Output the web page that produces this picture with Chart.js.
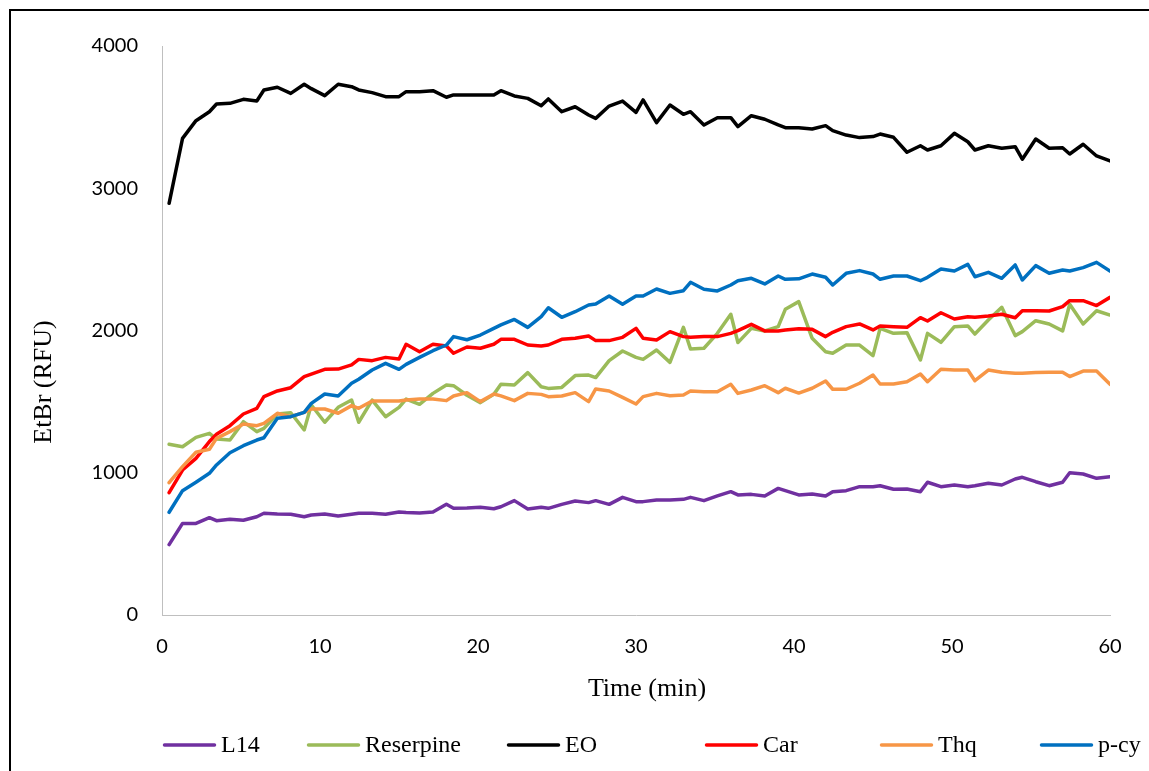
<!DOCTYPE html>
<html>
<head>
<meta charset="utf-8">
<title>EtBr efflux</title>
<script src="https://cdn.jsdelivr.net/npm/chart.js@4.4.1/dist/chart.umd.min.js"></script>
<style>
  html, body { margin: 0; padding: 0; background: #fff; overflow: hidden; }
  #wrap { position: relative; width: 1149px; height: 771px; }
  #c { position: absolute; left: 0; top: 0; }
  #frame { position: absolute; left: 9px; top: 9px; width: 1300px; height: 900px;
           border-top: 2px solid #000; border-left: 2px solid #000; pointer-events: none; }
</style>
</head>
<body>
<div id="wrap">
  <canvas id="c" width="1149" height="771"></canvas>
  <div id="frame"></div>
</div>
<script>
// Reading times (min), one reading every 45 s
const timeMin = [0.45, 1.30, 2.15, 3.00, 3.45, 4.30, 5.15, 6.00, 6.45, 7.30, 8.15, 9.00, 9.45, 10.30, 11.15, 12.00,
  12.45, 13.30, 14.15, 15.00, 15.45, 16.30, 17.15, 18.00, 18.45, 19.30, 20.15, 21.00, 21.45, 22.30, 23.15, 24.00,
  24.45, 25.30, 26.15, 27.00, 27.45, 28.30, 29.15, 30.00, 30.45, 31.30, 32.15, 33.00, 33.45, 34.30, 35.15, 36.00,
  36.45, 37.30, 38.15, 39.00, 39.45, 40.30, 41.15, 42.00, 42.45, 43.30, 44.15, 45.00, 45.45, 46.30, 47.15, 48.00,
  48.45, 49.30, 50.15, 51.00, 51.45, 52.30, 53.15, 54.00, 54.45, 55.30, 56.15, 57.00, 57.45, 58.30, 59.15, 60.00];

// EtBr fluorescence (RFU) per treatment
const l14 = [495, 644, 644, 684, 663, 673, 666, 691, 715, 710, 708, 691, 703, 710, 696, 708,
  715, 715, 708, 724, 720, 717, 724, 778, 750, 752, 757, 747, 761, 804, 745, 757,
  750, 778, 801, 790, 804, 778, 827, 797, 797, 808, 808, 813, 827, 804, 837, 867,
  844, 848, 837, 890, 874, 844, 851, 837, 867, 874, 902, 902, 909, 884, 886, 867,
  933, 902, 914, 902, 909, 926, 914, 956, 968, 937, 909, 933, 1000, 991, 961, 972];

const reserpine = [1200, 1183, 1249, 1277, 1237, 1230, 1359, 1289, 1312, 1413, 1422, 1301, 1476, 1355, 1460, 1511,
  1355, 1511, 1394, 1460, 1518, 1481, 1558, 1617, 1612, 1545, 1493, 1551, 1622, 1617, 1704, 1605,
  1593, 1600, 1683, 1687, 1669, 1788, 1856, 1811, 1797, 1863, 1776, 2022, 1870, 1875, 1980, 2114,
  1915, 2015, 1997, 2027, 2149, 2203, 1945, 1851, 1840, 1898, 1898, 1823, 2015, 1980, 1985, 1793,
  1980, 1917, 2027, 2032, 1975, 2074, 2163, 1964, 1992, 2069, 2046, 1997, 2184, 2046, 2139, 2109];

const eo = [2894, 3351, 3475, 3538, 3592, 3597, 3625, 3613, 3691, 3710, 3667, 3731, 3700, 3651, 3731, 3714,
  3691, 3672, 3644, 3644, 3679, 3679, 3686, 3640, 3656, 3656, 3655, 3656, 3686, 3649, 3632, 3580,
  3628, 3538, 3573, 3515, 3491, 3578, 3613, 3534, 3621, 3461, 3585, 3520, 3538, 3445, 3496, 3496,
  3433, 3510, 3485, 3445, 3426, 3426, 3417, 3440, 3405, 3374, 3356, 3363, 3381, 3358, 3253, 3299,
  3269, 3299, 3386, 3327, 3269, 3299, 3281, 3292, 3204, 3346, 3281, 3285, 3241, 3309, 3227, 3192];

const car = [860, 1019, 1101, 1219, 1270, 1331, 1413, 1453, 1535, 1575, 1598, 1676, 1694, 1727, 1729, 1758,
  1797, 1788, 1811, 1800, 1903, 1851, 1903, 1891, 1840, 1884, 1875, 1903, 1938, 1938, 1898, 1891,
  1898, 1938, 1945, 1961, 1929, 1929, 1952, 2015, 1945, 1933, 1992, 1957, 1952, 1957, 1957, 1980,
  1999, 2043, 1997, 1997, 2004, 2013, 2008, 1957, 1987, 2027, 2046, 2004, 2032, 2027, 2022, 2090,
  2067, 2125, 2081, 2097, 2093, 2102, 2114, 2090, 2139, 2139, 2137, 2168, 2210, 2210, 2175, 2233];

const thq = [930, 1043, 1144, 1165, 1242, 1289, 1343, 1331, 1347, 1418, 1394, 1425, 1448, 1448, 1418, 1472,
  1453, 1504, 1504, 1504, 1511, 1518, 1518, 1507, 1540, 1563, 1500, 1554, 1540, 1507, 1558, 1551,
  1535, 1540, 1563, 1500, 1589, 1575, 1530, 1483, 1535, 1558, 1542, 1547, 1575, 1570, 1570, 1622,
  1558, 1582, 1612, 1563, 1594, 1560, 1594, 1645, 1587, 1587, 1629, 1687, 1624, 1624, 1640, 1694,
  1640, 1727, 1722, 1722, 1647, 1722, 1706, 1699, 1699, 1704, 1706, 1706, 1676, 1715, 1715, 1622];

const pcy = [722, 874, 933, 996, 1055, 1141, 1190, 1230, 1246, 1383, 1394, 1425, 1488, 1554, 1540, 1629,
  1657, 1722, 1769, 1727, 1762, 1811, 1858, 1898, 1957, 1935, 1968, 2015, 2039, 2078, 2022, 2097,
  2160, 2093, 2132, 2179, 2186, 2243, 2184, 2243, 2243, 2292, 2261, 2280, 2339, 2290, 2278, 2320,
  2350, 2367, 2327, 2383, 2360, 2363, 2397, 2374, 2320, 2402, 2421, 2397, 2360, 2383, 2383, 2350,
  2374, 2432, 2418, 2465, 2378, 2409, 2367, 2461, 2355, 2456, 2402, 2425, 2418, 2442, 2479, 2418];

const seriesNames = ['L14', 'Reserpine', 'EO', 'Car', 'Thq', 'p-cy'];
const seriesValues = [l14, reserpine, eo, car, thq, pcy];
const seriesColors = ['#7030A0', '#9BBB59', '#000000', '#FF0000', '#F79646', '#0070C0'];

const xTickValues = [0, 10, 20, 30, 40, 50, 60];
const yTickValues = [0, 1000, 2000, 3000, 4000];
const xTitle = 'Time (min)';
const yTitle = 'EtBr (RFU)';

const TICK_FONT = { family: 'Lato', size: 20 };
const SERIF = '"Liberation Serif", "Times New Roman", serif';
const AXIS_GREY = '#BFBFBF';

// Axis titles and the legend row under the plot
const decorations = {
  id: 'decorations',
  afterDraw(chart) {
    const ctx = chart.ctx;
    ctx.save();
    ctx.fillStyle = '#000';
    ctx.textAlign = 'center';
    ctx.textBaseline = 'middle';
    ctx.font = '26px ' + SERIF;
    ctx.fillText(xTitle, 647, 689);
    ctx.save();
    ctx.translate(44, 382);
    ctx.rotate(-Math.PI / 2);
    ctx.fillText(yTitle, 0, 0);
    ctx.restore();

    const itemX = [163, 307, 507, 705, 880, 1040];
    const legendY = 745;
    const lineLen = 53;
    ctx.font = '24px ' + SERIF;
    ctx.textAlign = 'left';
    ctx.lineCap = 'round';
    chart.data.datasets.forEach((ds, i) => {
      const x0 = itemX[i];
      ctx.strokeStyle = ds.borderColor;
      ctx.lineWidth = 3.5;
      ctx.beginPath();
      ctx.moveTo(x0 + 1.5, legendY);
      ctx.lineTo(x0 + lineLen - 1.5, legendY);
      ctx.stroke();
      ctx.fillStyle = '#000';
      ctx.fillText(ds.label, x0 + lineLen + 5, legendY + 1);
    });
    ctx.restore();
  }
};

const datasets = seriesNames.map((name, i) => ({
  label: name,
  data: timeMin.map((t, k) => ({ x: t, y: seriesValues[i][k] })),
  borderColor: seriesColors[i],
  backgroundColor: seriesColors[i],
  borderWidth: 3.5,
  borderJoinStyle: 'round',
  borderCapStyle: 'round',
  pointRadius: 0,
  tension: 0,
  fill: false,
  order: seriesNames.length - i
}));

new Chart(document.getElementById('c'), {
  type: 'line',
  data: { datasets },
  options: {
    responsive: false,
    animation: false,
    devicePixelRatio: 1,
    layout: { padding: { top: 46, right: 39, left: 0, bottom: 0 } },
    plugins: {
      legend: { display: false },
      tooltip: { enabled: false }
    },
    scales: {
      x: {
        type: 'linear',
        min: 0,
        max: 60,
        grid: { display: false, drawTicks: false },
        border: { display: true, color: AXIS_GREY, width: 1 },
        ticks: { font: TICK_FONT, color: '#000', padding: 20, maxRotation: 0, callback: v => String(v) },
        afterBuildTicks: s => { s.ticks = xTickValues.map(v => ({ value: v })); },
        afterFit: s => { s.height = 156; }
      },
      y: {
        type: 'linear',
        min: 0,
        max: 4000,
        grid: { display: false, drawTicks: false },
        border: { display: true, color: AXIS_GREY, width: 1 },
        ticks: { font: TICK_FONT, color: '#000', padding: 24, callback: v => String(v) },
        afterBuildTicks: s => { s.ticks = yTickValues.map(v => ({ value: v })); },
        afterFit: s => { s.width = 162; }
      }
    }
  },
  plugins: [decorations]
});
</script>
</body>
</html>
